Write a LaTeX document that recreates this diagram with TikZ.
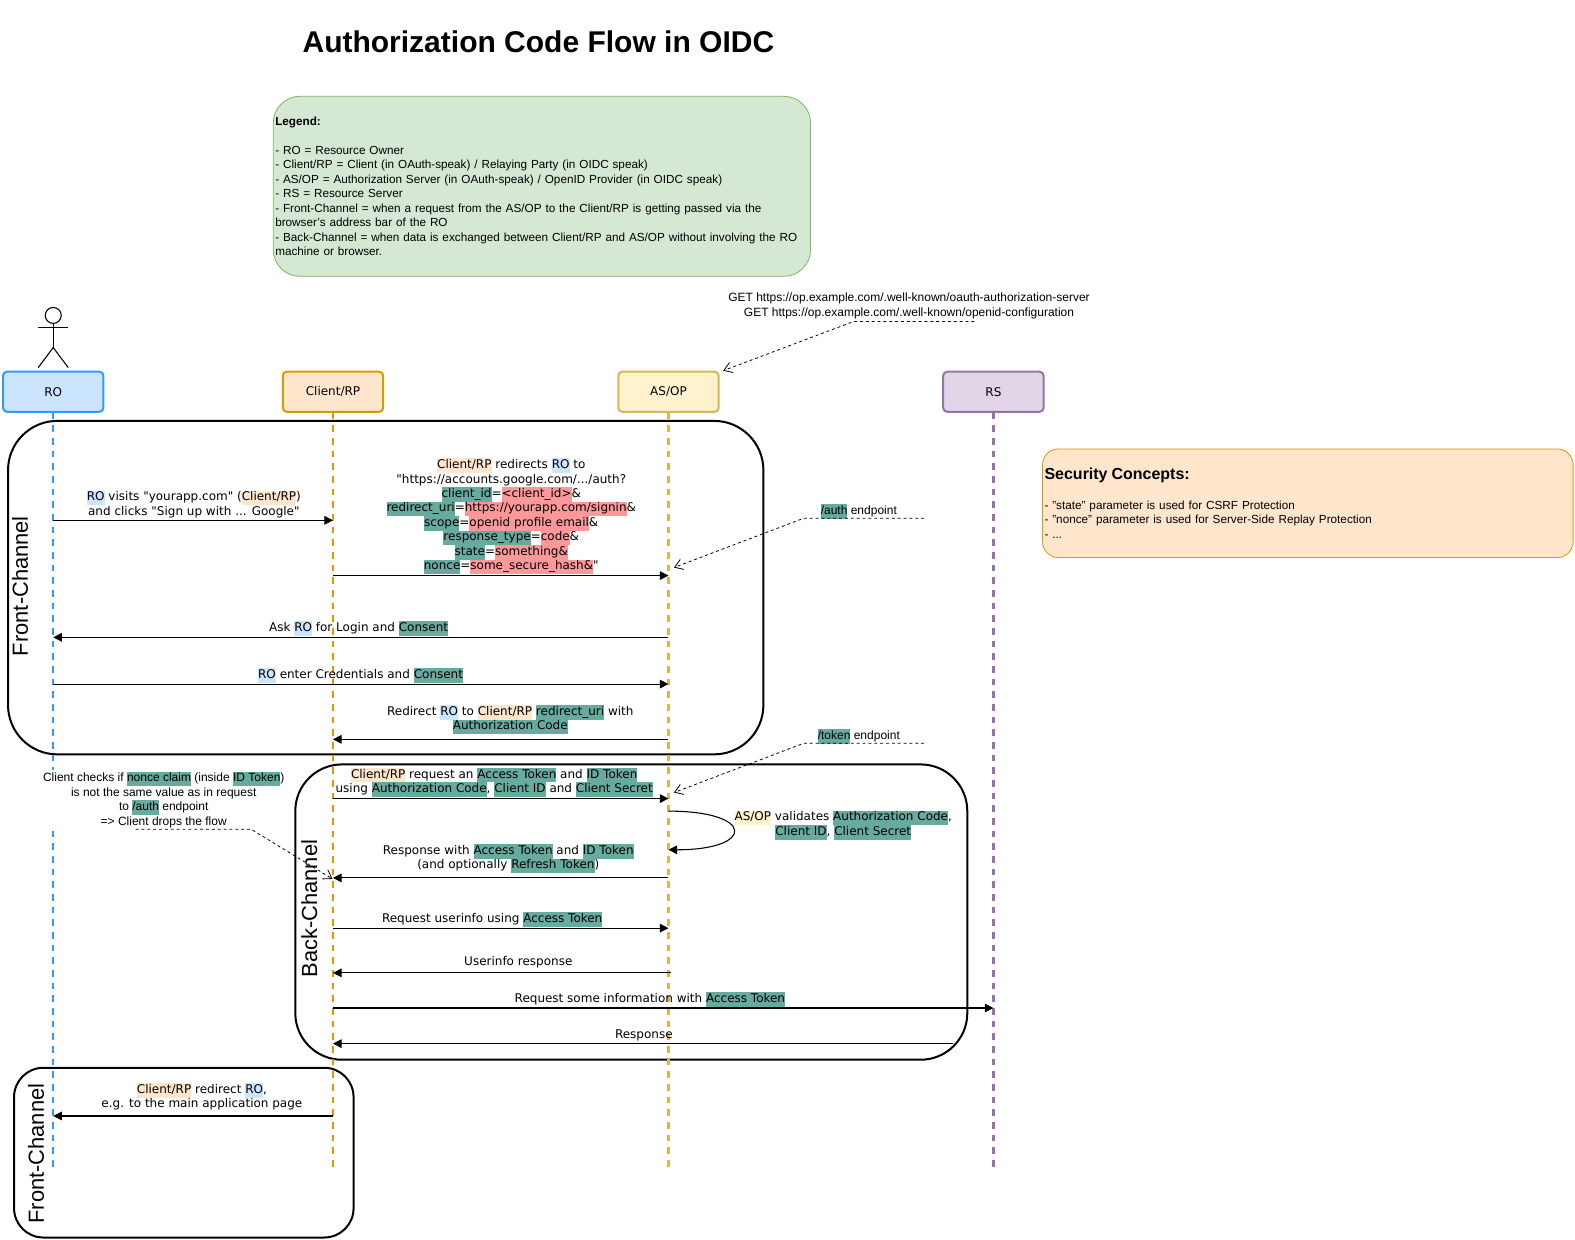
\documentclass[tikz,border=0pt]{standalone}
\usepackage{fontspec}
\usepackage{xcolor}
\setmainfont{Liberation Sans}
\newfontfamily\seqfont{DejaVu Sans}
\usetikzlibrary{arrows.meta}

\definecolor{roFill}{HTML}{CCE5FF}
\definecolor{roLine}{HTML}{3399FF}
\definecolor{rpFill}{HTML}{FFE6CC}
\definecolor{rpLine}{HTML}{D79B00}
\definecolor{asFill}{HTML}{FFF2CC}
\definecolor{asLine}{HTML}{D6B656}
\definecolor{rsFill}{HTML}{E1D5E7}
\definecolor{rsLine}{HTML}{9673A6}
\definecolor{legFill}{HTML}{D5E8D4}
\definecolor{legLine}{HTML}{82B366}
\definecolor{tagGreen}{HTML}{67AB9F}
\definecolor{tagPink}{HTML}{FF9999}

\newcommand{\seqtext}{\seqfont\fontsize{9}{10.85}\selectfont}
\newcommand{\notetext}{\fontsize{9}{10.85}\selectfont}
\newcommand{\infotext}{\fontsize{8.8}{10.85}\selectfont}
\newcommand{\hlbox}[2]{{\setlength{\fboxsep}{0pt}\colorbox{#1}{\strut #2}}}
\newcommand{\hlgreen}[1]{\hlbox{tagGreen}{#1}}
\newcommand{\hlpink}[1]{\hlbox{tagPink}{#1}}
\newcommand{\hlro}{\hlbox{roFill}{RO}}
\newcommand{\hlrp}{\hlbox{rpFill}{Client/RP}}
\newcommand{\hlas}{\hlbox{asFill}{AS/OP}}

\tikzstyle{head} = [rectangle, rounded corners=3pt, minimum width=75.3pt, minimum height=30.1pt, text centered, line width=1.5pt, font=\seqtext]
\tikzstyle{roline} = [roLine, line width=1.7pt, dash pattern=on 5pt off 4.5pt]
\tikzstyle{rpline} = [rpLine, line width=1.7pt, dash pattern=on 5pt off 4.5pt]
\tikzstyle{asline} = [asLine, line width=1.7pt, dash pattern=on 5pt off 4.5pt]
\tikzstyle{rsline} = [rsLine, line width=1.7pt, dash pattern=on 5pt off 4.5pt]
\tikzstyle{frame} = [black, line width=1.5pt]
\tikzstyle{framelabel} = [rotate=90, inner sep=0pt, font=\fontsize{16.4}{20}\selectfont]
\tikzstyle{msglabel} = [inner sep=0pt, align=center, font=\seqtext]
\tikzstyle{notelabel} = [inner sep=0pt, align=center, font=\notetext]
\tikzstyle{arrow} = [line width=0.8pt, -{Triangle[length=6.5pt,width=6.5pt]}]
\tikzstyle{notearrow} = [line width=0.6pt, dash pattern=on 2.2pt off 2.2pt, -{Straight Barb[length=6pt,width=8pt]}]
\tikzstyle{actor} = [line width=0.8pt]
\tikzstyle{infobox} = [rectangle, align=left, inner sep=1.5pt, line width=0.6pt, font=\infotext]

\begin{document}
\begin{tikzpicture}[x=0.7534pt, y=-0.7534pt]
\useasboundingbox (0,0) rectangle (1568,1234.4);

% title and boxes of text
\node (title) [inner sep=0pt, font=\fontsize{22.5}{26}\selectfont\bfseries] at (536,41.5) {Authorization Code Flow in OIDC};

\node (legend) [infobox, draw=legLine, fill=legFill, rounded corners=20pt, text width=400pt, minimum height=135pt] at (539.5,185.5) {\textbf{Legend:}\\[10.85pt]
- RO = Resource Owner\\
- Client/RP = Client (in OAuth-speak) / Relaying Party (in OIDC speak)\\
- AS/OP = Authorization Server (in OAuth-speak) / OpenID Provider (in OIDC speak)\\
- RS = Resource Server\\
- Front-Channel = when a request from the AS/OP to the Client/RP is getting passed via the\\
browser's address bar of the RO\\
- Back-Channel = when data is exchanged between Client/RP and AS/OP without involving the RO\\
machine or browser.};

\node (security) [infobox, draw=rpLine, fill=rpFill, rounded corners=12pt, text width=395pt, minimum height=81.5pt] at (1302,501) {{\fontsize{12}{14}\selectfont\textbf{Security Concepts:}}\\[11.5pt]
- "state" parameter is used for CSRF Protection\\
- "nonce" parameter is used for Server-Side Replay Protection\\
- ...};

% channel frames
\draw [frame, rounded corners=37pt] (8,419) rectangle (760,751);
\draw [frame, rounded corners=35pt] (294,761) rectangle (963,1055);
\draw [frame, rounded corners=22pt] (14,1063) rectangle (352,1232);
\node (front1) [framelabel] at (20,583.5) {Front-Channel};
\node (back) [framelabel] at (308,904.5) {Back-Channel};
\node (front2) [framelabel] at (36,1148.5) {Front-Channel};

% actor
\draw [actor] (53,314) circle (6pt);
\draw [actor] (53,322) -- (53,346);
\draw [actor] (38,326) -- (68,326);
\draw [actor] (38,366) -- (53,346) -- (68,366);

% participants
\node (ro) [head, draw=roLine, fill=roFill] at (53,390) {RO};
\node (client) [head, draw=rpLine, fill=rpFill] at (331.5,390) {Client/RP};
\node (asop) [head, draw=asLine, fill=asFill] at (665.5,390) {AS/OP};
\node (rs) [head, draw=rsLine, fill=rsFill] at (989,390) {RS};

\coordinate (roend) at (53,1166);
\coordinate (clientend) at (331.5,1166);
\coordinate (asopend) at (665.5,1166);
\coordinate (rsend) at (989,1166);

\draw [roline] (ro) -- (roend);
\draw [rpline] (client) -- (clientend);
\draw [asline] (asop) -- (asopend);
\draw [rsline] (rs) -- (rsend);

% message ends
\coordinate (visitA) at (ro |- 0,518);
\coordinate (visitB) at (client |- 0,518);
\coordinate (authA) at (client |- 0,573);
\coordinate (authB) at (asop |- 0,573);
\coordinate (askA) at (asop |- 0,634.5);
\coordinate (askB) at (ro |- 0,634.5);
\coordinate (credA) at (ro |- 0,681);
\coordinate (credB) at (asop |- 0,681);
\coordinate (backA) at (asop |- 0,736);
\coordinate (backB) at (client |- 0,736);
\coordinate (tokenA) at (client |- 0,795);
\coordinate (tokenB) at (asop |- 0,795);
\coordinate (selfA) at (asop |- 0,807.5);
\coordinate (selfB) at (asop |- 0,846);
\coordinate (respA) at (asop |- 0,874);
\coordinate (respB) at (client |- 0,874);
\coordinate (infoA) at (client |- 0,924);
\coordinate (infoB) at (asop |- 0,924);
\coordinate (userA) at (668,968.5);
\coordinate (userB) at (client |- 0,968.5);
\coordinate (reqA) at (client |- 0,1003.5);
\coordinate (reqB) at (rs |- 0,1003.5);
\coordinate (rsrespA) at (949,1039);
\coordinate (rsrespB) at (client |- 0,1039);
\coordinate (mainA) at (client |- 0,1111);
\coordinate (mainB) at (ro |- 0,1111);

% messages
\draw [arrow] (visitA) -- (visitB);
\draw [arrow] (authA) -- (authB);
\draw [arrow] (askA) -- (askB);
\draw [arrow] (credA) -- (credB);
\draw [arrow] (backA) -- (backB);
\draw [arrow] (tokenA) -- (tokenB);
\draw [arrow] (selfA) .. controls (752,807.5) and (752,846) .. (selfB);
\draw [arrow] (respA) -- (respB);
\draw [arrow] (infoA) -- (infoB);
\draw [arrow] (userA) -- (userB);
\draw [arrow] (reqA) -- (reqB);
\draw [arrow] (rsrespA) -- (rsrespB);
\draw [arrow] (mainA) -- (mainB);

% message labels
\node (visit) [msglabel] at (193,502) {\hlro{} visits "yourapp.com" (\hlrp)\\and clicks "Sign up with ... Google"};
\node (auth) [msglabel] at (509,514) {\hlrp{} redirects \hlro{} to\\
"https://accounts.google.com/.../auth?\\
\hlgreen{client\_id}=\hlpink{<client\_id>}\&\\
\hlgreen{redirect\_uri}=\hlpink{https://yourapp.com/signin}\&\\
\hlgreen{scope}=\hlpink{openid profile email}\&\\
\hlgreen{response\_type}=\hlpink{code}\&\\
\hlgreen{state}=\hlpink{something\&}\\
\hlgreen{nonce}=\hlpink{some\_secure\_hash\&}"};
\node (ask) [msglabel] at (357,625.5) {Ask \hlro{} for Login and \hlgreen{Consent}};
\node (cred) [msglabel] at (359,672.5) {\hlro{} enter Credentials and \hlgreen{Consent}};
\node (redirect) [msglabel] at (508,716.5) {Redirect \hlro{} to \hlrp{} \hlgreen{redirect\_uri} with\\\hlgreen{Authorization Code}};
\node (token) [msglabel] at (492,779) {\hlrp{} request an \hlgreen{Access Token} and \hlgreen{ID Token}\\using \hlgreen{Authorization Code}, \hlgreen{Client ID} and \hlgreen{Client Secret}};
\node (self) [msglabel] at (839.5,821.5) {\hlas{} validates \hlgreen{Authorization Code},\\\hlgreen{Client ID}, \hlgreen{Client Secret}};
\node (resp) [msglabel] at (506,855) {Response with \hlgreen{Access Token} and \hlgreen{ID Token}\\(and optionally \hlgreen{Refresh Token})};
\node (info) [msglabel] at (490,915.5) {Request userinfo using \hlgreen{Access Token}};
\node (user) [msglabel] at (516,957.5) {Userinfo response};
\node (req) [msglabel] at (647,995) {Request some information with \hlgreen{Access Token}};
\node (rsresp) [msglabel] at (641,1030.5) {Response};
\node (main) [msglabel] at (201,1092) {\hlrp{} redirect \hlro,\\e.g. to the main application page};

% side notes
\node (wellknown) [notelabel] at (905,304.5) {GET https://op.example.com/.well-known/oauth-authorization-server\\GET https://op.example.com/.well-known/openid-configuration};
\node (authnote) [notelabel] at (855,509) {\hlgreen{/auth} endpoint};
\node (tokennote) [notelabel] at (855,733) {\hlgreen{/token} endpoint};
\node (noncenote) [notelabel, fill=white, inner sep=1pt] at (163,796) {Client checks if \hlgreen{nonce claim} (inside \hlgreen{ID Token})\\is not the same value as in request\\to \hlgreen{/auth} endpoint\\=> Client drops the flow};

\coordinate (wellA) at (970,320);
\coordinate (wellB) at (850,320);
\coordinate (wellC) at (720,369);
\coordinate (authnoteA) at (920,516);
\coordinate (authnoteB) at (800,516);
\coordinate (authnoteC) at (671,565);
\coordinate (tokennoteA) at (920,740);
\coordinate (tokennoteB) at (800,740);
\coordinate (tokennoteC) at (671,789);
\coordinate (noncenoteA) at (135,825.5);
\coordinate (noncenoteB) at (250,825.5);
\coordinate (noncenoteC) at (331,875);

\draw [notearrow] (wellA) -- (wellB) -- (wellC);
\draw [notearrow] (authnoteA) -- (authnoteB) -- (authnoteC);
\draw [notearrow] (tokennoteA) -- (tokennoteB) -- (tokennoteC);
\draw [notearrow] (noncenoteA) -- (noncenoteB) -- (noncenoteC);

\end{tikzpicture}
\end{document}
